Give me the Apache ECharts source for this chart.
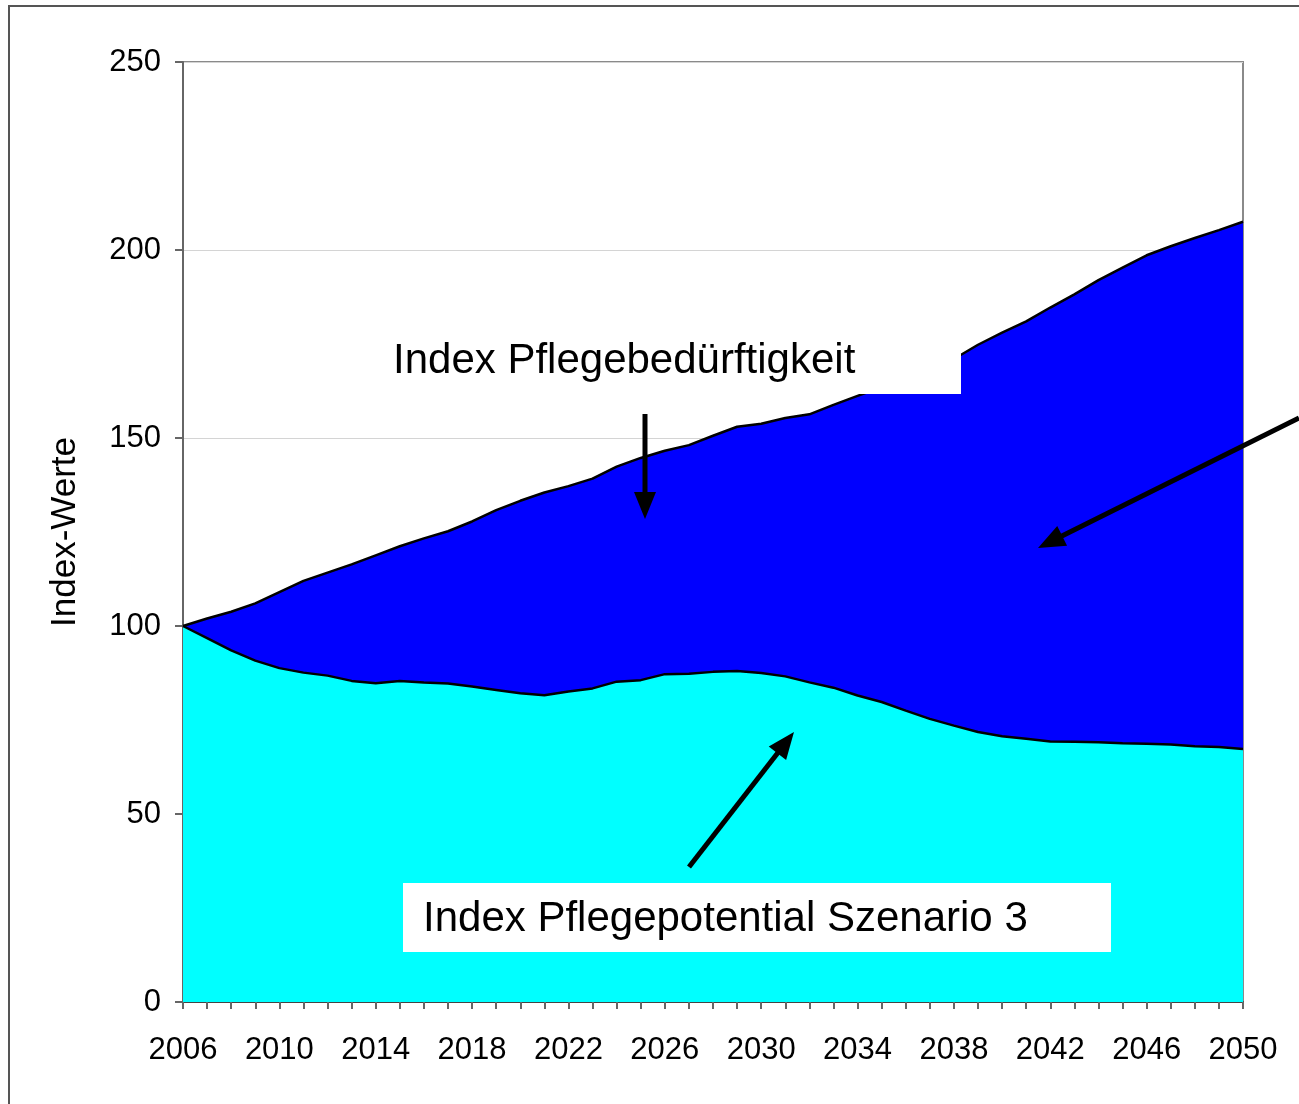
<!DOCTYPE html>
<html>
<head>
<meta charset="utf-8">
<script src="https://cdn.jsdelivr.net/npm/echarts@6/dist/echarts.min.js"></script>
<style>
  html, body { margin: 0; padding: 0; background: #fff; }
  #chart { width: 1299px; height: 1104px; }
</style>
</head>
<body>
<div id="chart"></div>
<script>
// Jahre 2006..2050
const years = [];
for (let y = 2006; y <= 2050; y++) years.push(String(y));

// Index Pflegebeduerftigkeit (obere Flaeche)
const pflegebedarf = [
  100, 102, 103.8, 106, 109, 112, 114.2, 116.4, 118.8, 121.2,
  123.3, 125.2, 127.8, 130.8, 133.3, 135.5, 137.2, 139.2, 142.4, 144.7,
  146.6, 148.1, 150.6, 153, 153.8, 155.3, 156.3, 158.8, 161.2, 163.5,
  166, 168.5, 171, 174.8, 178, 181, 184.7, 188.2, 192, 195.3,
  198.6, 201, 203.2, 205.3, 207.5
];

// Index Pflegepotential Szenario 3 (untere Flaeche)
const pflegepotential = [
  100, 96.8, 93.5, 90.8, 88.8, 87.6, 86.8, 85.4, 84.8, 85.4,
  85, 84.7, 83.9, 83, 82.1, 81.6, 82.6, 83.4, 85.2, 85.6,
  87.2, 87.3, 87.8, 88, 87.5, 86.6, 85, 83.6, 81.5, 79.8,
  77.5, 75.3, 73.5, 71.8, 70.7, 70, 69.3, 69.2, 69.1, 68.8,
  68.7, 68.5, 68, 67.8, 67.3
];

const yTicks = [0, 50, 100, 150, 200, 250];

const FONT = '"Liberation Sans", Arial, sans-serif';

// Pfeil als Linie + Dreieck
function arrow(x1, y1, x2, y2) {
  const dx = x2 - x1, dy = y2 - y1;
  const len = Math.sqrt(dx * dx + dy * dy);
  const ux = dx / len, uy = dy / len;
  const head = 27, half = 11;
  const bx = x2 - ux * head, by = y2 - uy * head;
  return [
    {
      type: 'line', z: 100,
      shape: { x1: x1, y1: y1, x2: bx + ux * 2, y2: by + uy * 2 },
      style: { stroke: '#000', lineWidth: 5 }
    },
    {
      type: 'polygon', z: 100,
      shape: { points: [[x2, y2], [bx - uy * half, by + ux * half], [bx + uy * half, by - ux * half]] },
      style: { fill: '#000' }
    }
  ];
}

const chart = echarts.init(document.getElementById('chart'));

chart.setOption({
  animation: false,
  backgroundColor: '#fff',
  grid: {
    left: 183, right: 56, top: 62, bottom: 102,
    show: true, borderColor: '#8a8a8a', borderWidth: 2
  },
  xAxis: {
    type: 'category',
    data: years,
    boundaryGap: false,
    axisLine: { lineStyle: { color: '#444', width: 2 } },
    axisTick: { show: true, interval: 0, length: 7, lineStyle: { color: '#666', width: 2 } },
    axisLabel: { interval: 3, color: '#000', fontSize: 31, fontFamily: FONT, margin: 33 },
    splitLine: { show: false }
  },
  yAxis: {
    type: 'value',
    min: yTicks[0],
    max: yTicks[yTicks.length - 1],
    interval: 50,
    name: 'Index-Werte',
    nameLocation: 'middle',
    nameGap: 100,
    nameTextStyle: { color: '#000', fontSize: 35, fontFamily: FONT },
    axisLine: { show: true, lineStyle: { color: '#666', width: 2 } },
    axisTick: { show: true, length: 8, lineStyle: { color: '#666', width: 2 } },
    axisLabel: { color: '#000', fontSize: 31, fontFamily: FONT, margin: 22 },
    splitLine: { show: true, lineStyle: { color: '#d4d4d4', width: 1 } }
  },
  series: [
    {
      name: 'Index Pflegebedürftigkeit',
      type: 'line',
      data: pflegebedarf,
      showSymbol: false,
      lineStyle: { color: '#000', width: 2.5 },
      areaStyle: { color: '#0000ff', opacity: 1, origin: 'start' }
    },
    {
      name: 'Index Pflegepotential Szenario 3',
      type: 'line',
      data: pflegepotential,
      showSymbol: false,
      lineStyle: { color: '#000', width: 2.5 },
      areaStyle: { color: '#00ffff', opacity: 1, origin: 'start' }
    }
  ],
  graphic: [
    // aeusserer Rahmen
    {
      type: 'rect', z: 0, silent: true,
      shape: { x: 9, y: 6, width: 1400, height: 1200 },
      style: { fill: 'none', stroke: '#555', lineWidth: 2 }
    },
    // Textfeld oben
    {
      type: 'rect', z: 90,
      shape: { x: 385, y: 325, width: 576, height: 69 },
      style: { fill: '#fff' }
    },
    {
      type: 'text', z: 101, left: 393, top: 340,
      style: { text: 'Index Pflegebedürftigkeit', fill: '#000', font: '42px ' + FONT }
    },
    // Textfeld unten
    {
      type: 'rect', z: 90,
      shape: { x: 403, y: 883, width: 708, height: 69 },
      style: { fill: '#fff' }
    },
    {
      type: 'text', z: 101, left: 423, top: 898,
      style: { text: 'Index Pflegepotential Szenario 3', fill: '#000', font: '42px ' + FONT }
    }
  ].concat(
    arrow(645, 414, 645, 519),
    arrow(1299, 418, 1038, 548),
    arrow(689, 867, 794, 732)
  )
});

window.addEventListener('resize', () => {
  chart.resize();
});
</script>
</body>
</html>
